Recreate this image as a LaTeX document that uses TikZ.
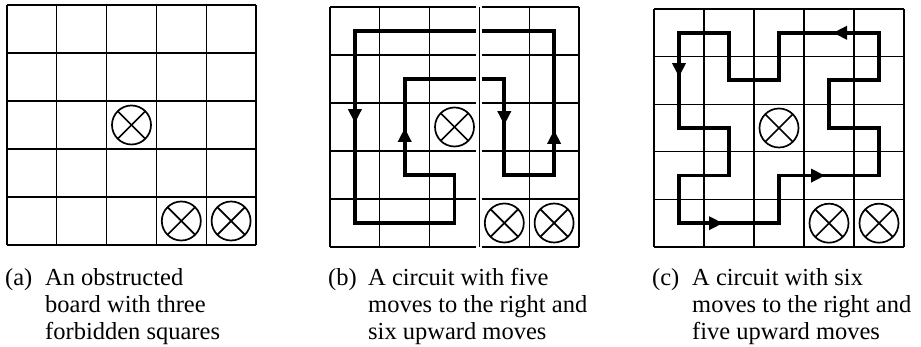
\documentclass[tikz,border=0pt]{standalone}
\usepackage{fontspec}
\setmainfont{Liberation Serif}
\usepackage{tikz}
\usetikzlibrary{arrows.meta}
\tikzset{
  board/.style={line width=1.2pt},
  banned/.style={line width=1.7pt},
  tour/.style={line width=3.8pt,line join=miter},
  tip/.style={-{Triangle[length=14pt,width=13pt]},line width=3.8pt},
  subcap/.style={font=\fontsize{24.5}{27}\selectfont,inner sep=0pt,anchor=base west}
}

\begin{document}
\begin{tikzpicture}[x=1pt,y=1pt]
\useasboundingbox (0,0) rectangle (921,347);
% the three boards with their forbidden squares
\foreach \bx/\by/\cw/\ch in {7/102/49.8/48,330/100/49.8/48,654/100/50/47.6}{
  \begin{scope}[shift={(\bx,\by)},x=\cw pt,y=\ch pt]
    \draw[board,step=1] (0,0) grid (5,5);
    \foreach \c/\r in {2/2,3/0,4/0}{
      \draw[banned] (\c+0.5,\r+0.5) circle[radius=19.5pt];
      \draw[banned] (\c+0.5,\r+0.5) ++(-13.8pt,-13.8pt) -- ++(27.6pt,27.6pt);
      \draw[banned] (\c+0.5,\r+0.5) ++(-13.8pt,13.8pt) -- ++(27.6pt,-27.6pt);
    }
  \end{scope}
}
% (b) five moves right, six up
\begin{scope}[shift={(330,100)},x=49.8pt,y=48pt]
  \draw[tour] (4.5,4.5) -- (0.5,4.5) -- (0.5,0.5) -- (2.5,0.5) -- (2.5,1.5)
    -- (1.5,1.5) -- (1.5,3.5) -- (3.5,3.5) -- (3.5,1.5) -- (4.5,1.5) -- cycle;
  \draw[tip] (0.5,3.2) -- (0.5,2.58);
  \draw[tip] (1.5,1.9) -- (1.5,2.48);
  \draw[tip] (3.5,3.1) -- (3.5,2.54);
  \draw[tip] (4.5,1.9) -- (4.5,2.44);
  % seam between the two halves of the board
  \fill[white] ([xshift=-3pt]3,-0.05) rectangle ([xshift=3pt]3,5.05);
  \draw[board] (3,0) -- (3,5);
\end{scope}
% (c) six moves right, five up
\begin{scope}[shift={(654,100)},x=50pt,y=47.6pt]
  \draw[tour] (4.5,4.5) -- (2.5,4.5) -- (2.5,3.5) -- (1.5,3.5) -- (1.5,4.5)
    -- (0.5,4.5) -- (0.5,2.5) -- (1.5,2.5) -- (1.5,1.5) -- (0.5,1.5)
    -- (0.5,0.5) -- (2.5,0.5) -- (2.5,1.5) -- (4.5,1.5) -- (4.5,2.5)
    -- (3.5,2.5) -- (3.5,3.5) -- (4.5,3.5) -- cycle;
  \draw[tip] (4.2,4.5) -- (3.58,4.5);
  \draw[tip] (0.5,4.2) -- (0.5,3.57);
  \draw[tip] (2.8,1.5) -- (3.42,1.5);
  \draw[tip] (0.8,0.5) -- (1.38,0.5);
\end{scope}
% captions
\node[subcap] (capa) at (5,61) {\begin{tabular}[t]{@{}p{40pt}@{}l@{}}(a) & An obstructed\\ & board with three\\ & forbidden squares\end{tabular}};
\node[subcap] (capb) at (328,61) {\begin{tabular}[t]{@{}p{40pt}@{}l@{}}(b) & A circuit with five\\ & moves to the right and\\ & six upward moves\end{tabular}};
\node[subcap] (capc) at (652,61) {\begin{tabular}[t]{@{}p{40pt}@{}l@{}}(c) & A circuit with six\\ & moves to the right and\\ & five upward moves\end{tabular}};
\end{tikzpicture}
\end{document}
